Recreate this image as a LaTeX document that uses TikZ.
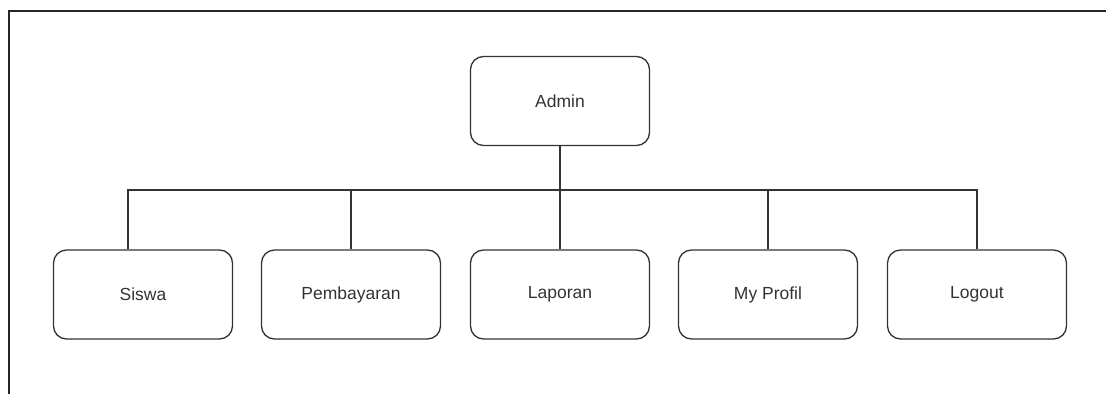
\documentclass[tikz,border=0pt]{standalone}
\usepackage{fontspec}
\setmainfont{Liberation Sans}
\definecolor{linec}{HTML}{333333}
\definecolor{textc}{HTML}{333333}
\begin{document}
\begin{tikzpicture}[x=1pt,y=-1pt,
  menubox/.style={draw=linec, line width=1.3pt, rounded corners=13pt,
    minimum width=179pt, minimum height=89pt, inner sep=0pt,
    font=\fontsize{17.5}{20}\selectfont, text=textc},
  link/.style={draw=linec, line width=1.3pt},
  frame/.style={draw=black!85, line width=1.8pt}]
\useasboundingbox (0,0) rectangle (1106,394);
% page frame (top and left edges)
\draw[frame] (8.7,394) -- (8.7,11.3) -- (1106,11.3);

% menu tree
\node[menubox] (admin) at (560,101) {Admin};
\node[menubox] (siswa) at (143,294.5) {Siswa};
\node[menubox] (bayar) at (351,294.5) {Pembayaran};
\node[menubox] (lapor) at (560,294.5) {Laporan};
\node[menubox] (profil) at (768,294.5) {My Profil};
\node[menubox] (logout) at (977,294.5) {Logout};

\coordinate (bus) at (560,190);
\draw[link] (admin.south) -- (bus);
\draw[link] ([xshift=-15pt]siswa.north) |- (logout.north |- bus) -- (logout.north);
\draw[link] (bayar.north) -- (bayar.north |- bus);
\draw[link] (lapor.north) -- (bus);
\draw[link] (profil.north) -- (profil.north |- bus);
\end{tikzpicture}
\end{document}
